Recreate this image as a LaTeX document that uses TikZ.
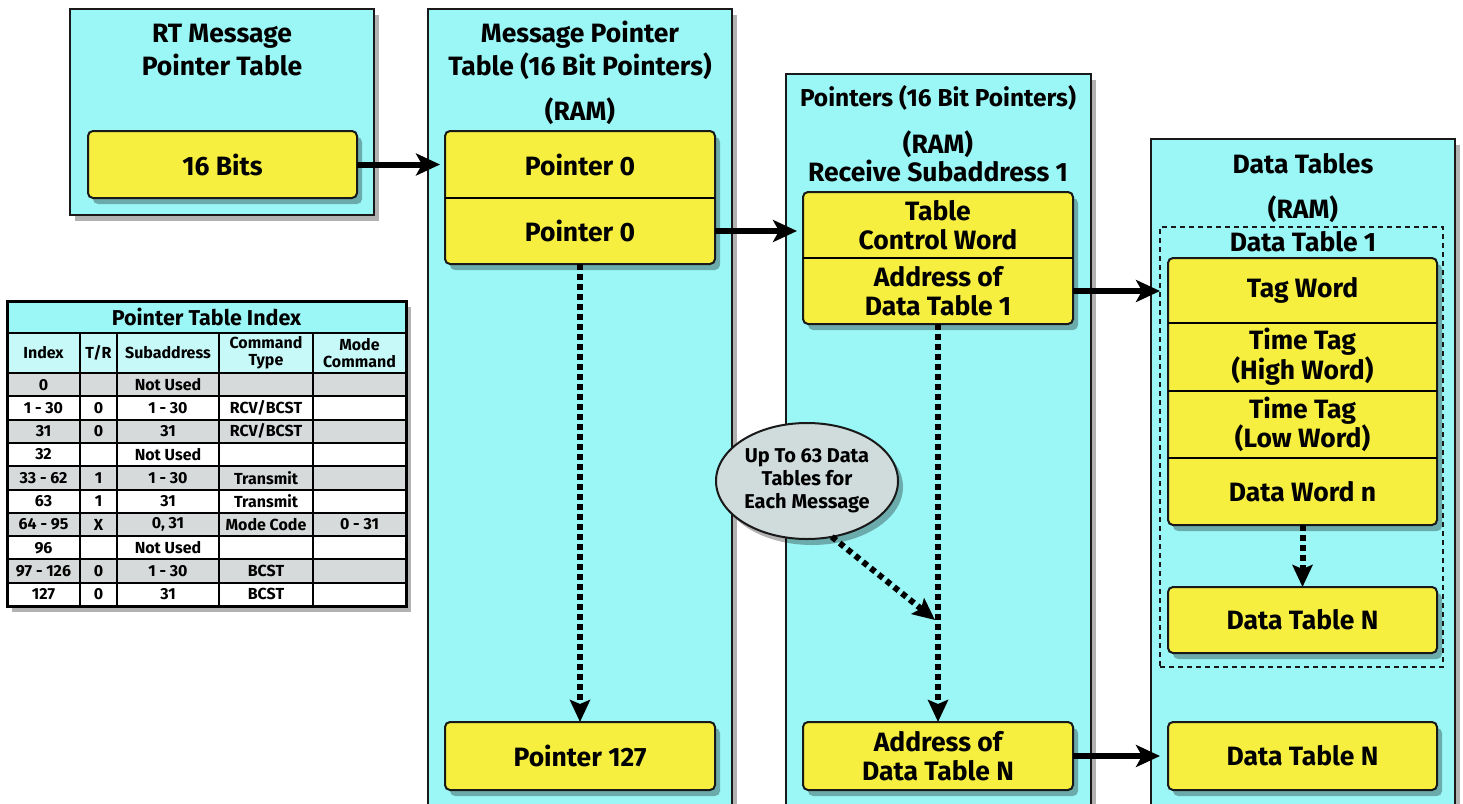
\documentclass[tikz,border=0pt]{standalone}
\usepackage{fontspec}
\setmainfont{Fira Sans}
\usetikzlibrary{arrows.meta,shapes.geometric,shadows}
\definecolor{cy}{RGB}{155,246,246}
\definecolor{cyl}{RGB}{200,249,249}
\definecolor{yl}{RGB}{246,239,64}
\definecolor{tg}{RGB}{215,218,218}
\definecolor{elg}{RGB}{208,220,220}
\newcommand\myfs[2]{\fontsize{#1}{#2}\selectfont\bfseries}
\newcommand\mkbox[7]{\node[#2, minimum width={(#5)-(#3)}, minimum height={(#6)-(#4)}] (#1) at ({((#3)+(#5))/2},{((#4)+(#6))/2}) {#7};}
\begin{document}
\begin{tikzpicture}[x=1pt,y=-1pt,
  every node/.style={inner sep=0pt, outer sep=0pt, align=center},
  shd/.style={drop shadow={shadow xshift=5pt, shadow yshift=-6pt, opacity=0.3, fill=black}},
  col/.style={draw=black!90, line width=2.5pt, fill=cy, shd},
  ybox/.style={draw=black!90, line width=2pt, fill=yl, rounded corners=5pt, shd},
  cell/.style={font=\myfs{26.5}{28.5}},
  ttl/.style={font=\myfs{26.5}{33}},
  arr/.style={line width=6pt, -{Stealth[length=24pt,width=22pt,inset=6pt]}},
  dots/.style={line width=6pt, dash pattern=on 5.5pt off 4.5pt, -{Stealth[length=22pt,width=20pt,inset=4pt]}},
  tx/.style={font=\myfs{16}{17}}]
\useasboundingbox (0,0) rectangle (1463,803);
\begin{scope}
\clip (0,0) rectangle (1463,803);
\fill[white] (0,0) rectangle (1463,803);
% columns
\mkbox{rtcol}{col}{70}{9}{374}{215}{}
\mkbox{mpcol}{col}{428}{9}{732}{840}{}
\mkbox{pcol}{col}{786}{74}{1091}{840}{}
\mkbox{dcol}{col}{1151}{139}{1455}{840}{}
% titles
\node[ttl] (rtT) at (222,50) {RT Message\\Pointer Table};
\node[ttl] (mpT) at (580,50) {Message Pointer\\Table (16 Bit Pointers)};
\node[ttl] (mpR) at (580,111) {(RAM)};
\node[font=\myfs{24.5}{27}] (pT) at (938,98) {Pointers (16 Bit Pointers)};
\node[ttl] (pR) at (938,144) {(RAM)};
\node[ttl] (pS) at (938,171) {Receive Subaddress 1};
\node[ttl] (dT) at (1303,164) {Data Tables};
\node[ttl] (dR) at (1303,209) {(RAM)};
% dashed data table box
\mkbox{dt1}{draw=black!90, line width=2pt, dash pattern=on 5pt off 4pt}{1160}{227}{1443}{667}{}
\node[ttl] (dt1T) at (1303,242) {Data Table 1};
% yellow boxes
\mkbox{bits}{ybox, cell}{88}{131}{357}{198}{16 Bits}
\mkbox{pbox}{ybox}{445}{131}{715}{264}{}
\mkbox{p0a}{cell}{445}{131}{715}{198}{Pointer 0}
\mkbox{p0b}{cell}{445}{198}{715}{264}{Pointer 0}
\draw[line width=2pt] (p0a.south west) -- (p0a.south east);
\mkbox{p127}{ybox, cell}{445}{722}{715}{790}{Pointer 127}
\mkbox{pbx}{ybox}{803}{192}{1073}{324}{}
\mkbox{tcw}{cell}{803}{192}{1073}{258}{Table\\Control Word}
\mkbox{addr1}{cell}{803}{258}{1073}{324}{Address of\\Data Table 1}
\draw[line width=2pt] (tcw.south west) -- (tcw.south east);
\mkbox{addrN}{ybox, cell}{803}{722}{1073}{790}{Address of\\Data Table N}
\mkbox{dbx}{ybox}{1168}{258}{1437}{525}{}
\mkbox{tag}{cell}{1168}{258}{1437}{323}{Tag Word}
\mkbox{thi}{cell}{1168}{323}{1437}{391}{Time Tag\\(High Word)}
\mkbox{tlo}{cell}{1168}{391}{1437}{458}{Time Tag\\(Low Word)}
\mkbox{dwn}{cell}{1168}{458}{1437}{525}{Data Word n}
\draw[line width=2pt] (tag.south west) -- (tag.south east);
\draw[line width=2pt] (thi.south west) -- (thi.south east);
\draw[line width=2pt] (tlo.south west) -- (tlo.south east);
\mkbox{dtN1}{ybox, cell}{1168}{587}{1437}{653}{Data Table N}
\mkbox{dtN2}{ybox, cell}{1168}{722}{1437}{790}{Data Table N}
% ellipse
\node[ellipse, draw=black!90, line width=2pt, fill=elg, shd, minimum width=182pt, minimum height=116pt, font=\myfs{20}{23}] (ell) at (807,481) {Up To 63 Data\\Tables for\\Each Message};
% arrows
\draw[arr, shorten >=5pt] (bits.east) -- (p0a.west);
\draw[arr, shorten >=6pt] (p0b.east) -- (p0b.east -| pbx.west);
\draw[arr] (addr1.east) -- (addr1.east -| dt1.west);
\draw[arr, shorten >=8pt] (addrN.east) -- (dtN2.west);
\draw[dots] (pbox.south) -- (p127.north);
\draw[dots] (pbx.south) -- (addrN.north);
\coordinate (hit) at (935,620);
\draw[dots] (ell.-66) -- (hit);
\draw[dots] (dbx.south) -- (dtN1.north);
% table
\mkbox{tbl}{fill=white, shd}{7}{301}{406}{606}{}
\fill[cy] (7,301) rectangle (406,333);
\fill[cyl] (7,333) rectangle (406,373);
\foreach \i in {0,2,4,6,8} \fill[tg] (7,{373+\i*23.3}) rectangle (406,{373+(\i+1)*23.3});
\node[font=\myfs{21.5}{22}] (tblT) at (206.5,317) {Pointer Table Index};
\node[tx] (h1) at (43.5,353) {Index};
\node[tx] (h2) at (98.5,353) {T/R};
\node[tx] (h3) at (168,353) {Subaddress};
\node[tx] (h4) at (266,353) {Command\\Type};
\node[tx] (h5) at (359.5,353) {Mode\\Command};
\foreach \i/\a/\b/\c/\d/\e in {0/0/{}/Not Used/{}/{}, 1/1 - 30/0/1 - 30/{RCV/BCST}/{}, 2/31/0/31/{RCV/BCST}/{}, 3/32/{}/Not Used/{}/{}, 4/33 - 62/1/1 - 30/Transmit/{}, 5/63/1/31/Transmit/{}, 6/64 - 95/X/{0, 31}/Mode Code/0 - 31, 7/96/{}/Not Used/{}/{}, 8/97 - 126/0/1 - 30/BCST/{}, 9/127/0/31/BCST/{}}{
  \node[tx] (r\i c1) at (43.5,{373+(\i+0.5)*23.3}) {\a};
  \node[tx] (r\i c2) at (98.5,{373+(\i+0.5)*23.3}) {\b};
  \node[tx] (r\i c3) at (168,{373+(\i+0.5)*23.3}) {\c};
  \node[tx] (r\i c4) at (266,{373+(\i+0.5)*23.3}) {\d};
  \node[tx] (r\i c5) at (359.5,{373+(\i+0.5)*23.3}) {\e};
}
\foreach \i in {1,...,9} \draw[line width=2pt] (7,{373+\i*23.3}) -- (406,{373+\i*23.3});
\draw[line width=2pt] (7,333) -- (406,333);
\draw[line width=2pt] (7,373) -- (406,373);
\foreach \x in {80,117,219,313} \draw[line width=2pt] (\x,333) -- (\x,606);
\draw[line width=3pt] (tbl.north west) rectangle (tbl.south east);
\end{scope}
\end{tikzpicture}
\end{document}
